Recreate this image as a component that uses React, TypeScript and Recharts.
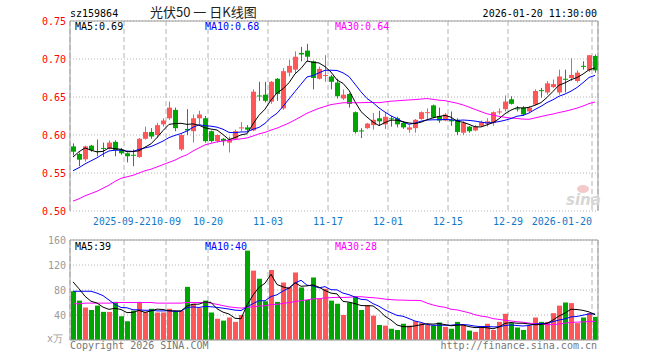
import React from 'react';
import { ComposedChart, Bar, Line, XAxis, YAxis, CartesianGrid, ReferenceLine } from 'recharts';

const dates = [
  '2025-09-09','2025-09-10','2025-09-11','2025-09-12','2025-09-15','2025-09-16','2025-09-17','2025-09-18','2025-09-19','2025-09-22',
  '2025-09-23','2025-09-24','2025-09-25','2025-09-26','2025-09-29','2025-09-30','2025-10-09','2025-10-10','2025-10-13','2025-10-14',
  '2025-10-15','2025-10-16','2025-10-17','2025-10-20','2025-10-21','2025-10-22','2025-10-23','2025-10-24','2025-10-27','2025-10-28',
  '2025-10-29','2025-10-30','2025-10-31','2025-11-03','2025-11-04','2025-11-05','2025-11-06','2025-11-07','2025-11-10','2025-11-11',
  '2025-11-12','2025-11-13','2025-11-14','2025-11-17','2025-11-18','2025-11-19','2025-11-20','2025-11-21','2025-11-24','2025-11-25',
  '2025-11-26','2025-11-27','2025-11-28','2025-12-01','2025-12-02','2025-12-03','2025-12-04','2025-12-05','2025-12-08','2025-12-09',
  '2025-12-10','2025-12-11','2025-12-12','2025-12-15','2025-12-16','2025-12-17','2025-12-18','2025-12-19','2025-12-22','2025-12-23',
  '2025-12-24','2025-12-25','2025-12-26','2025-12-29','2025-12-30','2025-12-31','2026-01-05','2026-01-06','2026-01-07','2026-01-08',
  '2026-01-09','2026-01-12','2026-01-13','2026-01-14','2026-01-15','2026-01-16','2026-01-19','2026-01-20'
];

const openP = [
  0.585,0.575,0.568,0.586,0.579,0.583,0.582,0.591,0.581,0.576,
  0.574,0.571,0.595,0.604,0.600,0.614,0.622,0.633,0.581,0.608,
  0.605,0.622,0.622,0.605,0.592,0.595,0.590,0.595,0.609,0.610,
  0.606,0.652,0.653,0.644,0.674,0.635,0.682,0.686,0.708,0.711,
  0.697,0.674,0.678,0.677,0.669,0.648,0.654,0.630,0.606,0.609,
  0.613,0.622,0.614,0.622,0.622,0.616,0.607,0.609,0.621,0.629,
  0.639,0.625,0.619,0.620,0.620,0.603,0.611,0.606,0.612,0.615,
  0.616,0.630,0.634,0.647,0.635,0.636,0.631,0.640,0.659,0.656,
  0.663,0.656,0.674,0.675,0.671,0.691,0.685,0.704
];
const highP = [
  0.589,0.577,0.586,0.587,0.594,0.590,0.593,0.593,0.583,0.577,
  0.581,0.596,0.611,0.609,0.616,0.622,0.644,0.636,0.601,0.634,
  0.627,0.632,0.625,0.606,0.601,0.596,0.598,0.607,0.617,0.613,
  0.660,0.670,0.670,0.671,0.675,0.688,0.699,0.710,0.716,0.720,
  0.698,0.690,0.705,0.679,0.674,0.660,0.655,0.631,0.609,0.616,
  0.629,0.632,0.630,0.625,0.624,0.618,0.613,0.621,0.631,0.635,
  0.640,0.636,0.629,0.631,0.622,0.618,0.612,0.613,0.619,0.622,
  0.631,0.635,0.652,0.651,0.638,0.638,0.638,0.660,0.662,0.671,
  0.673,0.686,0.686,0.701,0.685,0.697,0.705,0.706
];
const lowP = [
  0.573,0.559,0.565,0.578,0.572,0.571,0.581,0.572,0.574,0.564,
  0.559,0.570,0.594,0.595,0.596,0.611,0.620,0.605,0.579,0.600,
  0.590,0.614,0.590,0.590,0.590,0.586,0.577,0.594,0.605,0.605,
  0.605,0.645,0.643,0.641,0.645,0.633,0.677,0.681,0.697,0.697,
  0.660,0.673,0.670,0.660,0.648,0.646,0.636,0.602,0.596,0.608,
  0.607,0.612,0.608,0.611,0.610,0.608,0.603,0.603,0.620,0.621,
  0.622,0.616,0.618,0.612,0.600,0.600,0.603,0.605,0.611,0.611,
  0.612,0.627,0.631,0.640,0.631,0.625,0.629,0.639,0.649,0.653,
  0.662,0.653,0.656,0.671,0.669,0.686,0.683,0.682
];
const closeP = [
  0.578,0.5675,0.585,0.580,0.578,0.582,0.590,0.580,0.576,0.572,
  0.573,0.595,0.604,0.598,0.613,0.619,0.636,0.609,0.600,0.606,
  0.622,0.627,0.592,0.592,0.600,0.592,0.594,0.605,0.610,0.607,
  0.657,0.651,0.645,0.670,0.654,0.684,0.691,0.703,0.706,0.703,
  0.675,0.687,0.679,0.670,0.651,0.653,0.641,0.604,0.605,0.615,
  0.620,0.618,0.624,0.621,0.614,0.610,0.610,0.620,0.630,0.630,
  0.623,0.619,0.627,0.618,0.604,0.616,0.605,0.611,0.617,0.618,
  0.630,0.631,0.644,0.641,0.634,0.627,0.636,0.658,0.658,0.668,
  0.667,0.677,0.673,0.679,0.682,0.690,0.705,0.685
];
const ma5 = [
  0.571,0.578,0.583,0.580,0.5777,0.5785,0.583,0.582,0.5812,0.578,
  0.5782,0.5792,0.584,0.5884,0.5966,0.6058,0.614,0.615,0.6154,0.614,
  0.6146,0.6128,0.6094,0.6078,0.6066,0.6006,0.594,0.5966,0.6002,0.6016,
  0.6146,0.626,0.634,0.646,0.6554,0.6608,0.6688,0.6804,0.6876,0.6974,
  0.6956,0.6948,0.690,0.6828,0.6724,0.668,0.6588,0.6438,0.6308,0.6236,
  0.617,0.6124,0.6164,0.6196,0.6194,0.6174,0.6158,0.615,0.6168,0.620,
  0.6226,0.6244,0.6258,0.6234,0.6182,0.6168,0.614,0.6108,0.6106,0.6134,
  0.6162,0.6214,0.628,0.6328,0.636,0.6354,0.6364,0.6392,0.6426,0.6494,
  0.6574,0.6656,0.6686,0.6728,0.6756,0.6802,0.6858,0.6882
];
const ma10 = [
  0.553,0.557,0.562,0.566,0.570,0.575,0.579,0.580,0.580,0.5789,
  0.5784,0.5811,0.583,0.5848,0.5883,0.592,0.5966,0.5995,0.6019,0.6053,
  0.6102,0.6134,0.6122,0.6116,0.6103,0.6076,0.6034,0.603,0.604,0.6041,
  0.6076,0.610,0.6153,0.6231,0.6285,0.6377,0.6474,0.6572,0.6668,0.6764,
  0.6782,0.6818,0.6852,0.6852,0.6849,0.6818,0.6768,0.6669,0.6568,0.648,
  0.6425,0.6356,0.6301,0.6252,0.6215,0.6172,0.6141,0.6157,0.6182,0.6197,
  0.620,0.6201,0.6204,0.6201,0.6191,0.6197,0.6192,0.6183,0.617,0.6158,
  0.6165,0.6177,0.6194,0.6217,0.6247,0.6258,0.6289,0.6336,0.6377,0.6427,
  0.6464,0.651,0.6539,0.6577,0.6625,0.6688,0.6757,0.6784
];
const ma30 = [
  0.513,0.516,0.520,0.523,0.526,0.530,0.534,0.539,0.543,0.545,
  0.547,0.550,0.553,0.555,0.558,0.561,0.564,0.567,0.571,0.574,
  0.579,0.583,0.587,0.589,0.591,0.592,0.593,0.594,0.595,0.5961,
  0.5987,0.6015,0.6035,0.6065,0.609,0.6124,0.6158,0.6199,0.6242,0.6286,
  0.632,0.6351,0.6376,0.640,0.6412,0.6424,0.6425,0.6424,0.6425,0.6428,
  0.6428,0.6425,0.6435,0.6445,0.645,0.6456,0.6461,0.6466,0.6473,0.648,
  0.6469,0.6458,0.6452,0.6435,0.6418,0.6396,0.6367,0.6336,0.6307,0.6278,
  0.6263,0.6245,0.6233,0.6223,0.6218,0.6209,0.6207,0.6225,0.6243,0.6261,
  0.6276,0.6296,0.6312,0.6332,0.6354,0.6381,0.6413,0.6434
];
const volume = [
  78,63,52,48,55,45,45,61,38,30,
  47,61,45,50,44,44,50,46,47,85,
  58,51,63,44,34,31,36,29,40,143,
  111,98,62,112,61,92,85,108,84,64,
  100,66,82,63,58,40,60,70,48,56,
  39,24,23,18,16,26,23,30,27,24,
  23,28,21,18,29,24,15,13,20,26,
  16,29,42,27,20,16,23,36,29,29,
  43,55,60,59,27,36,43,37
];
const vma5 = [
  93,82,70,62,59.2,52.6,49,50.8,48.8,43.8,
  44.2,47.4,44.2,46.6,49.4,48.8,46.6,46.8,46.2,54.4,
  57.2,57.4,60.8,60.2,50,44.6,41.6,34.8,34,55.8,
  71.8,84.2,90.8,105.2,88.8,85,82.4,91.6,86,86.6,
  88.2,84.4,79.2,75,73.8,61.8,60.6,58.2,55.2,54.8,
  54.6,47.4,38,32,24,21.4,21.2,22.6,24.4,26,
  25.4,26.4,24.6,22.8,23.8,24,21.4,19.8,20.2,19.6,
  18,20.8,26.6,28,26.8,26.8,25.6,24.4,24.8,26.6,
  32,38.4,43.2,49.2,48.8,47.4,45,40.4
];
const vma10 = [
  78,78,78,78,75,71,64,57,52,51.5,
  48.4,48.2,47.5,47.7,46.6,46.5,47,45.5,46.4,51.9,
  53,52,53.8,53.2,52.2,50.9,49.5,47.8,47.1,52.9,
  58.2,62.9,62.8,69.6,72.3,78.4,83.3,91.2,95.6,87.7,
  86.6,83.4,85.4,80.5,80.2,75,72.5,68.7,65.1,64.3,
  58.2,54,48.1,43.6,39.4,38,34.3,30.3,28.2,25,
  23.4,23.8,23.6,23.6,24.9,24.7,23.9,22.2,21.5,21.7,
  21,21.1,23.2,24.1,23.2,22.4,23.2,25.5,26.4,26.7,
  29.4,32,33.8,37,37.7,39.7,41.7,41.8
];
const vma30 = [
  58,58,59,59,59,59,59,60,60,60,
  60,60,60,60,59,59,59,59,59,60,
  60,60,60,59,57,55,53,52,51,52.1,
  53.2,54.4,54.7,56.8,57,58.6,59.9,61.5,63,64.2,
  65.9,66.1,67.3,67.8,68.2,68.1,68.4,69.2,69.3,68.3,
  67.7,66.8,65.4,64.6,64,63.8,63.4,63.4,63,59,
  56.1,53.7,52.4,49.2,48.2,45.9,43.6,40.4,38.3,37,
  34.2,33,31.6,30.4,29.2,28.4,27.1,26,25.4,24.5,
  24.6,25.6,26.9,28.2,28.6,28.9,29.6,29.8
];

const tickIndex = [9, 16, 23, 33, 43, 53, 63, 73, 87];
const tickLabels = ['2025-09-22', '10-09', '10-20', '11-03', '11-17', '12-01', '12-15', '12-29', '2026-01-20'];
const priceTicks = [0.5, 0.55, 0.6, 0.65, 0.7, 0.75];
const volTicks = [0, 40, 80, 120, 160];

const data = dates.map((d, i) => ({
  date: d,
  slot: i + 0.5,
  open: openP[i],
  high: highP[i],
  low: lowP[i],
  close: closeP[i],
  range: [lowP[i], highP[i]],
  vol: volume[i],
  ma5: ma5[i],
  ma10: ma10[i],
  ma30: ma30[i],
  vma5: vma5[i],
  vma10: vma10[i],
  vma30: vma30[i],
}));

const MONO = "'DejaVu Sans Mono', 'Liberation Mono', monospace";
const RED = '#ff5757';
const GREEN = '#00a600';
const FRAME = '#9c9c9c';
const GRID = '#b4b4b4';
const BLUE_LABEL = '#1478c8';

function Candle(props: any) {
  const { x, y, width, height, payload } = props;
  if (!payload) return null;
  const { open, close, high, low } = payload;
  const color = close >= open ? RED : GREEN;
  const top = Math.min(y, y + height);
  const h = Math.abs(height);
  const k = h / (high - low || 1);
  const bTop = top + (high - Math.max(open, close)) * k;
  const bBot = top + (high - Math.min(open, close)) * k;
  const left = Math.floor(x);
  const w = Math.max(1, Math.round(width));
  const cx = left + Math.floor(w / 2) + 0.5;
  return (
    <g>
      <line x1={cx} x2={cx} y1={top} y2={top + h} stroke={color} strokeWidth={1} />
      <rect x={left} y={bTop} width={w} height={Math.max(1, bBot - bTop)} fill={color} />
    </g>
  );
}

function VolBar(props: any) {
  const { x, y, width, height, payload } = props;
  if (!payload) return null;
  const color = payload.close >= payload.open ? RED : GREEN;
  const top = Math.min(y, y + height);
  return <rect x={Math.floor(x)} y={top} width={Math.round(width)} height={Math.abs(height)} fill={color} />;
}

const PriceTick = (p: any) => (
  <text x={66} y={p.y} dy={3.5} textAnchor="end" fill="#ff0000" fontSize={10} fontFamily={MONO}>
    {Number(p.payload.value).toFixed(2)}
  </text>
);

const VolTick = (p: any) => {
  const zero = p.payload.value === 0;
  return (
    <text x={zero ? 63 : 66} y={p.y} dy={zero ? 2 : 3.5} textAnchor="end" fill="#9a9a9a" fontSize={10} fontFamily={MONO}>
      {zero ? 'x万' : String(p.payload.value)}
    </text>
  );
};

const DateTick = (p: any) => {
  const idx = tickIndex.indexOf(p.payload.value);
  const last = idx === tickIndex.length - 1;
  const first = idx === 0;
  return (
    <text
      x={first ? p.x - 2 : p.x}
      y={225}
      textAnchor={last ? 'end' : 'middle'}
      fill={BLUE_LABEL}
      fontSize={first ? 9.6 : 10}
      fontFamily={MONO}
    >
      {tickLabels[idx]}
    </text>
  );
};

export default function App() {
  return (
    <div style={{ position: 'absolute', left: 0, top: 0, width: 660, height: 360, background: '#fff', overflow: 'hidden' }}>
      <div style={{ position: 'absolute', left: 0, top: 0 }}>
        <ComposedChart width={660} height={232} data={data} margin={{ top: 21, right: 62, bottom: 0, left: 0 }}>
          <CartesianGrid xAxisId="g" yAxisId="p" vertical={false} stroke={GRID} strokeDasharray="1 2" />
          <CartesianGrid xAxisId="g" yAxisId="p" horizontal={false} stroke={GRID} strokeDasharray="5 3" />
          <XAxis xAxisId="c" dataKey="date" hide />
          <XAxis
            xAxisId="g"
            dataKey="slot"
            type="number"
            domain={[0, 88]}
            allowDataOverflow
            ticks={tickIndex}
            interval={0}
            height={21}
            tickLine={false}
            axisLine={{ stroke: FRAME }}
            tick={<DateTick />}
          />
          <YAxis
            yAxisId="p"
            domain={[0.5, 0.75]}
            allowDataOverflow
            ticks={priceTicks}
            interval={0}
            width={70}
            tickLine={false}
            axisLine={{ stroke: FRAME }}
            tick={<PriceTick />}
          />
          <ReferenceLine xAxisId="g" yAxisId="p" y={0.75} stroke={FRAME} ifOverflow="visible" />
          <ReferenceLine xAxisId="g" yAxisId="p" x={88} stroke={FRAME} ifOverflow="visible" />
          <Bar xAxisId="c" yAxisId="p" dataKey="range" barSize={5} shape={<Candle />} isAnimationActive={false} />
          <Line xAxisId="c" yAxisId="p" dataKey="ma30" stroke="#ff00ff" strokeWidth={1} dot={false} isAnimationActive={false} />
          <Line xAxisId="c" yAxisId="p" dataKey="ma10" stroke="#0000ff" strokeWidth={1} dot={false} isAnimationActive={false} />
          <Line xAxisId="c" yAxisId="p" dataKey="ma5" stroke="#000000" strokeWidth={1} dot={false} isAnimationActive={false} />
        </ComposedChart>
      </div>
      <div style={{ position: 'absolute', left: 0, top: 220 }}>
        <ComposedChart width={660} height={132} data={data} margin={{ top: 20, right: 62, bottom: 12, left: 0 }}>
          <CartesianGrid xAxisId="g" yAxisId="v" vertical={false} stroke={GRID} strokeDasharray="1 2" />
          <CartesianGrid xAxisId="g" yAxisId="v" horizontal={false} stroke={GRID} strokeDasharray="5 3" />
          <XAxis xAxisId="c" dataKey="date" hide />
          <XAxis xAxisId="g" dataKey="slot" type="number" domain={[0, 88]} allowDataOverflow ticks={tickIndex} interval={0} hide />
          <YAxis
            yAxisId="v"
            domain={[0, 160]}
            allowDataOverflow
            ticks={volTicks}
            interval={0}
            width={70}
            tickLine={false}
            axisLine={{ stroke: FRAME }}
            tick={<VolTick />}
          />
          <ReferenceLine xAxisId="g" yAxisId="v" y={160} stroke={FRAME} ifOverflow="visible" />
          <ReferenceLine xAxisId="g" yAxisId="v" y={0} stroke={FRAME} ifOverflow="visible" />
          <ReferenceLine xAxisId="g" yAxisId="v" x={88} stroke={FRAME} ifOverflow="visible" />
          <Bar xAxisId="c" yAxisId="v" dataKey="vol" barSize={5} shape={<VolBar />} isAnimationActive={false} />
          <Line xAxisId="c" yAxisId="v" dataKey="vma30" stroke="#ff00ff" strokeWidth={1} dot={false} isAnimationActive={false} />
          <Line xAxisId="c" yAxisId="v" dataKey="vma10" stroke="#0000ff" strokeWidth={1} dot={false} isAnimationActive={false} />
          <Line xAxisId="c" yAxisId="v" dataKey="vma5" stroke="#000000" strokeWidth={1} dot={false} isAnimationActive={false} />
        </ComposedChart>
      </div>
      <svg width={660} height={360} style={{ position: 'absolute', left: 0, top: 0, pointerEvents: 'none' }}>
        <text x={70} y={17} fontSize={10} fontFamily={MONO} fill="#000">sz159864</text>
        <text x={150} y={17} fontSize={13} fontFamily="'Noto Sans CJK SC', sans-serif" fill="#222">光伏50 一 日K线图</text>
        <text x={597} y={17} textAnchor="end" fontSize={10} fontFamily={MONO} fill="#000">2026-01-20 11:30:00</text>
        <text x={75} y={30} fontSize={10} fontFamily={MONO} fill="#000">MA5:0.69</text>
        <text x={205} y={30} fontSize={10} fontFamily={MONO} fill="#0000ff">MA10:0.68</text>
        <text x={335} y={30} fontSize={10} fontFamily={MONO} fill="#ff00ff">MA30:0.64</text>
        <text x={75} y={250} fontSize={10} fontFamily={MONO} fill="#000">MA5:39</text>
        <text x={205} y={250} fontSize={10} fontFamily={MONO} fill="#0000ff">MA10:40</text>
        <text x={335} y={250} fontSize={10} fontFamily={MONO} fill="#ff00ff">MA30:28</text>
        <ellipse cx={583} cy={189} rx={6} ry={4} fill="#f3c9c9" />
        <text x={566} y={205} fontSize={15} fontStyle="italic" fontWeight="bold" fontFamily="'DejaVu Sans', sans-serif" fill="#d6d6d6">sina</text>
        <text x={70} y={349} fontSize={10} fontFamily={MONO} fill="#777">Copyright 2026 SINA.COM</text>
        <text x={597} y={349} textAnchor="end" fontSize={10} fontFamily={MONO} fill="#777">http://finance.sina.com.cn</text>
      </svg>
    </div>
  );
}
